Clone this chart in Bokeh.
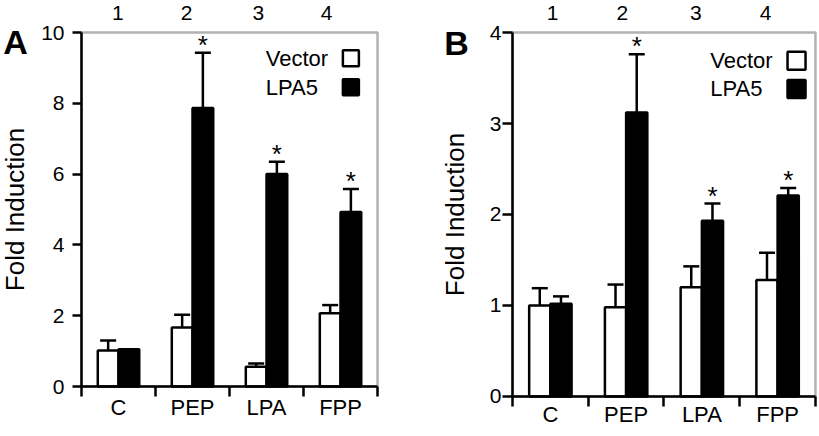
from bokeh.plotting import figure
from bokeh.layouts import row
from bokeh.models import (Range1d, FixedTicker, ColumnDataSource, Whisker, TeeHead,
                          Label, BoxAnnotation)
from bokeh.core.properties import value
from bokeh.embed import file_html
from bokeh.resources import INLINE

# ---------------- data ----------------
categories = ["C", "PEP", "LPA", "FPP"]
lane_numbers = ["1", "2", "3", "4"]
series_names = ["Vector", "LPA5"]

# Panel A
a_vector = [1.02, 1.67, 0.56, 2.07]
a_vector_err = [0.28, 0.36, 0.09, 0.23]
a_lpa5 = [1.05, 7.87, 6.00, 4.93]
a_lpa5_err = [0.0, 1.56, 0.35, 0.65]
a_sig = [False, True, True, True]

# Panel B
b_vector = [1.00, 0.98, 1.20, 1.28]
b_vector_err = [0.19, 0.25, 0.23, 0.30]
b_lpa5 = [1.02, 3.12, 1.93, 2.21]
b_lpa5_err = [0.08, 0.64, 0.19, 0.08]
b_sig = [False, True, True, True]

FONT = "Liberation Sans"
LW = 2.5
BAR_W = 0.28
H = 435


def make_panel(letter, vec, vec_err, lpa, lpa_err, sig, y_max, y_step,
               width, xr, yr, tick_out, tick_standoff, label_standoff, x_standoff,
               letter_xy, lane_x, lane_y, text_x, sq_x, leg_y, sq_size):
    p = figure(width=width, height=H, output_backend="svg", toolbar_location=None,
               x_range=Range1d(*xr), y_range=Range1d(*yr),
               min_border_left=0, min_border_right=0,
               min_border_top=0, min_border_bottom=0)
    p.xgrid.visible = False
    p.ygrid.visible = False
    p.outline_line_color = None
    p.background_fill_color = "white"
    p.border_fill_color = "white"

    n = len(categories)
    centers = [i + 0.5 for i in range(n)]
    xv = [c - BAR_W / 2 for c in centers]
    xl = [c + BAR_W / 2 for c in centers]

    # plot box
    p.add_layout(BoxAnnotation(left=0, right=n, bottom=0, top=y_max,
                               fill_color=None, line_color="black", line_width=LW))

    p.vbar(x=xv, top=vec, bottom=0, width=BAR_W, fill_color="white",
           line_color="black", line_width=LW)
    p.vbar(x=xl, top=lpa, bottom=0, width=BAR_W, fill_color="black",
           line_color="black", line_width=LW)

    bx, lo, up = [], [], []
    for xs, tops, errs in ((xv, vec, vec_err), (xl, lpa, lpa_err)):
        for x, t, e in zip(xs, tops, errs):
            if e > 0:
                bx.append(x)
                lo.append(t)
                up.append(t + e)
    src = ColumnDataSource(dict(base=bx, lower=lo, upper=up))
    w = Whisker(source=src, base="base", lower="lower", upper="upper",
                dimension="height", line_color="black", line_width=LW,
                upper_head=TeeHead(size=16, line_color="black", line_width=LW),
                lower_head=None)
    p.add_layout(w)

    sx = [x for x, s in zip(xl, sig) if s]
    sy = [t + e for t, e, s in zip(lpa, lpa_err, sig) if s]
    p.text(x=sx, y=sy, text=["*"] * len(sx), text_font=value(FONT),
           text_font_size="26px", text_align="center", text_baseline="alphabetic",
           y_offset=-8, text_color="black")

    # legend
    p.text(x=[text_x, text_x], y=leg_y, text=series_names, text_font=value(FONT),
           text_font_size="22px", text_align="left", text_baseline="middle",
           text_color="black")
    p.scatter(x=[sq_x, sq_x], y=leg_y, marker="square", size=sq_size,
              fill_color=["white", "black"], line_color="black", line_width=LW)

    # axes
    p.yaxis.fixed_location = 0
    p.yaxis.bounds = (0, y_max)
    p.yaxis.ticker = FixedTicker(ticks=list(range(0, y_max + 1, y_step)))
    p.yaxis.major_tick_out = tick_out
    p.yaxis.major_tick_in = 0
    p.yaxis.minor_tick_out = 0
    p.yaxis.minor_tick_in = 0
    p.yaxis.axis_line_width = LW
    p.yaxis.major_tick_line_width = LW
    p.yaxis.major_label_text_font = FONT
    p.yaxis.major_label_text_font_size = "21px"
    p.yaxis.major_label_text_color = "black"
    p.yaxis.major_label_standoff = tick_standoff
    p.yaxis.axis_label = "Fold Induction"
    p.yaxis.axis_label_text_font = FONT
    p.yaxis.axis_label_text_font_size = "26px"
    p.yaxis.axis_label_text_font_style = "normal"
    p.yaxis.axis_label_text_color = "black"
    p.yaxis.axis_label_standoff = label_standoff

    p.xaxis.fixed_location = 0
    p.xaxis.bounds = (0, n)
    p.xaxis.ticker = FixedTicker(ticks=centers, minor_ticks=list(range(0, n + 1)))
    p.xaxis.major_label_overrides = {c: lab for c, lab in zip(centers, categories)}
    p.xaxis.major_tick_out = 0
    p.xaxis.major_tick_in = 0
    p.xaxis.minor_tick_out = 10
    p.xaxis.minor_tick_in = 0
    p.xaxis.minor_tick_line_width = LW
    p.xaxis.axis_line_width = LW
    p.xaxis.major_label_text_font = FONT
    p.xaxis.major_label_text_font_size = "22px"
    p.xaxis.major_label_text_color = "black"
    p.xaxis.major_label_standoff = x_standoff

    # lane numbers above the plot box
    for lx, lab in zip(lane_x, lane_numbers):
        p.add_layout(Label(x=lx, y=lane_y, text=lab, text_font=FONT,
                           text_font_size="21px", text_align="center",
                           text_baseline="middle", text_color="black"))
    # panel letter
    p.add_layout(Label(x=letter_xy[0], y=letter_xy[1], text=letter, text_font=FONT,
                       text_font_size="34px", text_font_style="bold",
                       text_align="center", text_baseline="middle", text_color="black"))
    return p


pa = make_panel("A", a_vector, a_vector_err, a_lpa5, a_lpa5_err, a_sig, 10, 2,
                width=409, xr=(-1.0946, 4.432), yr=(-1.384, 10.904),
                tick_out=9, tick_standoff=8, label_standoff=8, x_standoff=-2,
                letter_xy=(-0.89, 9.72), lane_x=[0.49, 1.42, 2.39, 3.31], lane_y=10.54,
                text_x=2.49, sq_x=3.64, leg_y=[9.27, 8.45], sq_size=16)

pb = make_panel("B", b_vector, b_vector_err, b_lpa5, b_lpa5_err, b_sig, 4, 1,
                width=409, xr=(-1.360, 4.040), yr=(-0.429, 4.352),
                tick_out=10, tick_standoff=1, label_standoff=17, x_standoff=-4,
                letter_xy=(-0.74, 3.89), lane_x=[0.53, 1.45, 2.42, 3.34], lane_y=4.21,
                text_x=2.61, sq_x=3.75, leg_y=[3.69, 3.38], sq_size=18)

layout = row(pa, pb)
open("out.html", "w").write(file_html(layout, INLINE))
